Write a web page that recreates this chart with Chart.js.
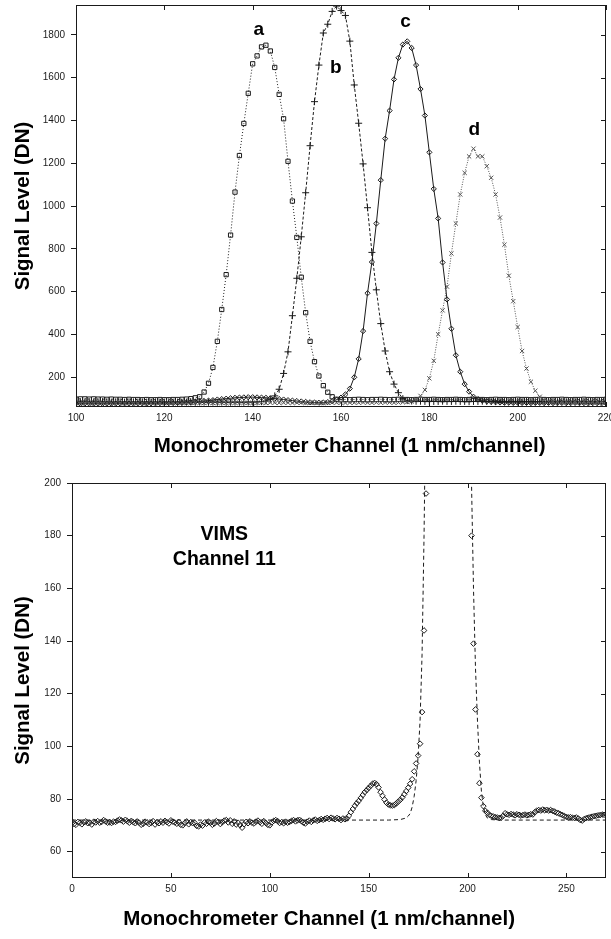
<!DOCTYPE html>
<html>
<head>
<meta charset="utf-8">
<script src="https://cdn.jsdelivr.net/npm/chart.js@4.4.0/dist/chart.umd.min.js"></script>
<style>
  html, body { margin: 0; padding: 0; background: #fff; }
  #wrap { width: 611px; height: 939px; overflow: hidden; }
  canvas { display: block; }
</style>
</head>
<body>
<div id="wrap">
  <canvas id="topChart" width="611" height="470"></canvas>
  <canvas id="bottomChart" width="611" height="469"></canvas>
</div>
<script>
// ---- top panel: four monochromator scans, one value per channel from 100 to 220
const topStart = 100;
const scanA = [
  97, 98, 98, 97, 98, 97, 97, 96, 97, 96,
  96, 95, 96, 95, 95, 94, 95, 94, 94, 95,
  94, 94, 95, 95, 96, 97, 99, 103,
  108, 130, 171, 245, 367, 516, 679, 864, 1065, 1236, 1386, 1527, 1665, 1702, 1744, 1752,
  1725, 1648, 1522, 1408, 1209, 1023, 853, 667, 501, 367, 272, 205, 160, 129, 108, 96,
  94, 95, 94, 95, 96, 95, 94, 95, 95, 96, 95, 94, 95, 96, 95, 95, 94, 95, 96, 95,
  95, 96, 95, 94, 95, 95, 96, 95, 94, 95, 96, 95, 95, 94, 95, 96, 95, 95, 94, 95,
  96, 95, 95, 94, 95, 96, 95, 94, 95, 95, 96, 95, 94, 95, 95, 96, 95, 94, 95, 95,
  96
];
const scanB = [
  84, 85, 84, 85, 84, 84, 85, 84, 83, 84,
  84, 83, 84, 84, 83, 84, 83, 83, 84, 83,
  83, 84, 83, 83, 82, 83, 83, 82, 83, 83,
  82, 83, 82, 83, 82, 82, 83, 82, 82, 83,
  83, 84, 85, 88, 96, 112,
  143, 217, 318, 487, 662, 856, 1062, 1282, 1488, 1659, 1809, 1850, 1910, 1935,
  1914, 1891, 1771, 1566, 1387, 1197, 992, 783, 608, 450, 322, 225, 167, 127, 99,
  90, 88, 87, 87, 86, 87, 86, 86, 87, 86,
  86, 87, 86, 86, 85, 86, 86, 87, 86, 86,
  85, 86, 86, 85, 86, 86, 85, 86, 86, 85,
  86, 85, 86, 86, 85, 86, 85, 86, 86, 85,
  86, 85, 86, 85, 86, 86
];
const scanC = [
  76, 75, 76, 75, 76, 76, 75, 76, 75, 76,
  76, 77, 76, 76, 77, 77, 76, 77, 77, 78,
  78, 78, 79, 79, 80, 81, 82, 84, 86, 88,
  90, 92, 95, 97, 99, 101, 103, 104, 105, 106,
  106, 105, 104, 103, 101, 99, 97, 95, 92, 90,
  88, 86, 84, 82, 81, 80, 81, 83, 87, 94, 104, 119,
  146, 199, 285, 415, 592, 738, 918, 1121, 1315, 1446, 1592, 1693, 1755, 1770, 1739,
  1659, 1547, 1423, 1251, 1080, 942, 736, 563, 426, 302, 225, 167, 132, 108, 97,
  90, 86, 84, 82, 81, 80, 80, 79, 80, 79,
  79, 78, 79, 79, 78, 79, 78, 78, 79, 78,
  78, 79, 78, 78, 77, 78, 78, 77, 78
];
const scanD = [
  80, 79, 80, 80, 79, 80, 79, 80, 80, 79,
  80, 79, 79, 80, 79, 80, 79, 79, 80, 79,
  79, 80, 79, 79, 80, 79, 79, 80, 79, 79,
  80, 79, 79, 80, 79, 79, 80, 79, 80, 79,
  79, 80, 80, 79, 80, 80, 79, 80, 80, 79,
  80, 80, 79, 80, 80, 80, 79, 80, 80, 80,
  80, 79, 80, 80, 80, 81, 80, 80, 81, 80,
  81, 81, 80, 81, 82, 83, 86, 95,
  112, 140, 194, 276, 400, 512, 623, 778, 918, 1054, 1155, 1232, 1268, 1232, 1232,
  1186, 1132, 1054, 946, 819, 674, 555, 434, 322, 240, 178, 136, 108, 92,
  87, 85, 84, 84, 83, 84, 83, 83, 84, 83, 83, 84, 83, 83
];
const peakNames = ["a", "b", "c", "d"];
const peakNameX = [141.4, 158.8, 174.6, 190.2];
const peakNameY = [1800, 1620, 1837, 1333];

// ---- bottom panel: VIMS channel 11, measured points and model (dashed)
const measLeftStart = 0;
const measLeft = [
  71.5, 70.5, 70.2, 71.3, 71.0, 70.4, 71.2, 71.5, 70.8, 71.0,
  70.3, 71.4, 71.1, 71.6, 71.0, 71.3, 72.0, 71.5, 71.0, 71.2,
  70.9, 71.4, 71.3, 71.8, 72.2, 71.9, 71.4, 72.1, 71.6, 71.0,
  71.7, 71.2, 70.8, 71.5, 71.0, 70.2, 70.6, 71.4, 71.1, 70.5,
  70.9, 71.6, 70.3, 71.2, 70.8, 71.5, 71.0, 71.7, 71.2, 70.7,
  71.9, 71.4, 71.1, 70.6, 71.3, 70.2, 70.0, 70.9, 71.5, 70.4,
  71.2, 70.8, 71.0, 69.8, 69.6, 70.3, 69.9, 71.1, 70.6, 71.4,
  71.0, 70.2, 70.7, 71.6, 71.3, 70.5, 71.2, 71.8, 72.0, 71.1,
  71.9, 70.6, 71.5, 70.3, 71.0, 70.1, 69.1, 70.4, 71.3, 70.8,
  71.5, 71.0, 70.7, 71.4, 71.8, 71.2, 70.6, 71.6, 70.9, 70.2,
  70.0, 71.1, 71.7, 72.0, 71.6, 70.9, 71.2, 70.8, 71.4, 71.0,
  71.3, 71.7, 72.0, 71.5, 71.9, 72.1, 71.6, 71.0, 70.7, 71.4,
  71.8, 71.3, 71.9, 72.2, 71.7, 72.0, 72.4, 72.1, 72.5, 72.8,
  72.4, 72.9, 72.6, 72.3, 72.8, 72.5, 72.0, 72.6, 72.3, 72.6,
  73.6, 75.0, 76.2, 77.4, 78.4, 79.3, 80.4, 81.5, 82.6, 83.4,
  84.2, 85.0, 85.8, 86.1, 85.6, 84.4, 82.6, 81.2, 79.8, 78.6,
  77.9, 77.6, 77.5, 77.7, 78.3, 79.0, 79.7, 80.6, 81.8, 83.0,
  84.3, 85.8, 87.5, 90.5, 93.5, 96.5, 101, 113, 144, 196
];
const measRightStart = 202;
const measRight = [
  180, 139, 114, 97, 86, 80.5, 77.3, 75.5, 74.8, 74.0,
  73.6, 73.4, 73.1, 73.0, 72.8, 72.9, 73.6, 74.6, 74.2, 74.0,
  74.3, 74.1, 73.8, 74.2, 74.0, 73.7, 73.9, 74.1, 73.8, 74.0,
  74.2, 74.1, 75.0, 75.6, 75.8, 75.6, 76.0, 75.7, 75.9, 75.6,
  75.8, 75.5, 75.2, 74.8, 74.6, 74.2, 73.9, 73.5, 73.2, 73.0,
  73.1, 72.9, 72.8, 73.0, 72.6, 72.0, 71.8, 72.4, 72.7, 72.9,
  73.1, 73.3, 73.5, 73.6, 73.8, 73.9, 74.1, 74.0, 74.2
];
const modelChannel = [0, 160, 166, 169, 170, 171, 172, 173, 174, 175, 176, 177, 178, 179, 190,
  201, 202, 203, 204, 205, 206, 207, 208, 209, 210, 212, 215, 270];
const modelSignal = [72, 72, 72.2, 72.8, 73.5, 74.5, 77, 81, 87, 96, 110, 135, 180, 240, 2500,
  260, 200, 160, 130, 110, 94, 83, 77, 74, 72.8, 72.2, 72, 72];
const noteLines = ["VIMS", "Channel 11"];
const noteX = [77, 77];
const noteY = [178.3, 169.0];

const INK = "#1a1a1a";
const FONT = "'Liberation Sans', Arial, Helvetica, sans-serif";
const X_TITLE = "Monochrometer Channel (1 nm/channel)";

// frame box + inward tick marks on top, bottom and right sides
const framePlugin = {
  id: "frame",
  afterDraw(chart) {
    const { ctx, chartArea: a, scales: { x, y } } = chart;
    ctx.save();
    ctx.strokeStyle = INK;
    ctx.lineWidth = 1;
    ctx.strokeRect(a.left + 0.5, a.top + 0.5, a.right - a.left - 1, a.bottom - a.top - 1);
    ctx.beginPath();
    x.ticks.forEach((t) => {
      const px = Math.round(x.getPixelForValue(t.value)) + 0.5;
      ctx.moveTo(px, a.bottom); ctx.lineTo(px, a.bottom - 5);
      ctx.moveTo(px, a.top); ctx.lineTo(px, a.top + 5);
    });
    y.ticks.forEach((t) => {
      const py = Math.round(y.getPixelForValue(t.value)) + 0.5;
      ctx.moveTo(a.right, py); ctx.lineTo(a.right - 5, py);
    });
    ctx.stroke();
    ctx.restore();
  },
};

// text placed at data coordinates
const textPlugin = {
  id: "textLabels",
  afterDatasetsDraw(chart, args, opts) {
    const { ctx, scales: { x, y } } = chart;
    ctx.save();
    ctx.fillStyle = "#000";
    ctx.textAlign = "center";
    ctx.textBaseline = "alphabetic";
    ctx.font = `bold ${opts.size}px ${FONT}`;
    (opts.items || []).forEach((it) => {
      ctx.fillText(it.text, x.getPixelForValue(it.x), y.getPixelForValue(it.y));
    });
    ctx.restore();
  },
};

function toPoints(start, values) {
  return values.map((v, i) => ({ x: start + i, y: v }));
}

function axes(cfg) {
  return {
    x: {
      type: "linear",
      min: cfg.xMin,
      max: cfg.xMax,
      border: { display: false },
      grid: { display: false, drawTicks: false },
      ticks: {
        stepSize: cfg.xStep, includeBounds: false, padding: 5, maxRotation: 0,
        autoSkip: false, color: INK, font: { family: FONT, size: 10 },
        callback: (v) => String(v),
      },
      title: {
        display: true, text: cfg.xTitle, color: "#000",
        font: { family: FONT, size: 20.5, weight: "bold" },
        padding: { top: 0, bottom: cfg.xTitlePad },
      },
      afterFit(s) { s.height = cfg.xHeight; s.paddingLeft = 0; s.paddingRight = 0; },
    },
    y: {
      type: "linear",
      min: cfg.yMin,
      max: cfg.yMax,
      border: { display: false },
      grid: { drawOnChartArea: false, drawTicks: true, tickLength: 5, color: INK },
      ticks: {
        stepSize: cfg.yStep, includeBounds: false, padding: 6,
        color: INK, font: { family: FONT, size: 10 },
        callback: (v) => String(v),
      },
      title: {
        display: true, text: "Signal Level (DN)", color: "#000",
        font: { family: FONT, size: 20.5, weight: "bold" },
        padding: { top: 11, bottom: 0 },
      },
      afterFit(s) { s.width = cfg.yWidth; s.paddingTop = 0; s.paddingBottom = 0; },
    },
  };
}

const baseOptions = {
  responsive: false,
  animation: false,
  devicePixelRatio: 1,
  plugins: { legend: { display: false }, tooltip: { enabled: false } },
};

function scanSet(values, dash, style, radius, color) {
  return {
    data: toPoints(topStart, values),
    borderColor: color,
    borderWidth: 1,
    borderDash: dash,
    pointStyle: style,
    pointRadius: radius,
    pointBorderWidth: 1,
    pointBorderColor: color,
    pointBackgroundColor: "rgba(0,0,0,0)",
    tension: 0,
  };
}

new Chart(document.getElementById("topChart"), {
  type: "line",
  data: {
    datasets: [
      scanSet(scanD, [1, 1.5], "crossRot", 3, "#555"),
      scanSet(scanC, [], "rectRot", 2.6, INK),
      scanSet(scanB, [3, 2], "cross", 3.5, INK),
      scanSet(scanA, [1, 2], "rect", 3, INK),
    ],
  },
  options: {
    ...baseOptions,
    layout: { padding: { left: 0, right: 4, top: 3, bottom: 0 } },
    scales: axes({
      xMin: 100, xMax: 220, xStep: 20, yMin: 60, yMax: 1940, yStep: 200,
      xHeight: 63, yWidth: 76, xTitlePad: 11,
      // a little off-centre to the right, as in the original figure
      xTitle: "   " + X_TITLE,
    }),
    plugins: {
      ...baseOptions.plugins,
      textLabels: {
        size: 19,
        items: peakNames.map((t, i) => ({ text: t, x: peakNameX[i], y: peakNameY[i] })),
      },
    },
  },
  plugins: [framePlugin, textPlugin],
});

new Chart(document.getElementById("bottomChart"), {
  type: "line",
  data: {
    datasets: [
      {
        data: modelChannel.map((c, i) => ({ x: c, y: modelSignal[i] })),
        borderColor: INK,
        borderWidth: 1,
        borderDash: [4, 3],
        pointRadius: 0,
        tension: 0,
      },
      {
        data: toPoints(measLeftStart, measLeft).concat(toPoints(measRightStart, measRight)),
        showLine: false,
        pointStyle: "rectRot",
        pointRadius: 2.8,
        pointBorderWidth: 1,
        pointBorderColor: INK,
        pointBackgroundColor: "rgba(0,0,0,0)",
      },
    ],
  },
  options: {
    ...baseOptions,
    layout: { padding: { left: 0, right: 1, top: 13, bottom: 0 } },
    scales: axes({
      xMin: 0, xMax: 270, xStep: 50, yMin: 50, yMax: 200, yStep: 20,
      xHeight: 61, yWidth: 72, xTitlePad: 7,
      // this one sits left of centre
      xTitle: X_TITLE + "       ",
    }),
    plugins: {
      ...baseOptions.plugins,
      textLabels: {
        size: 19.5,
        items: noteLines.map((t, i) => ({ text: t, x: noteX[i], y: noteY[i] })),
      },
    },
  },
  plugins: [framePlugin, textPlugin],
});
</script>
</body>
</html>
